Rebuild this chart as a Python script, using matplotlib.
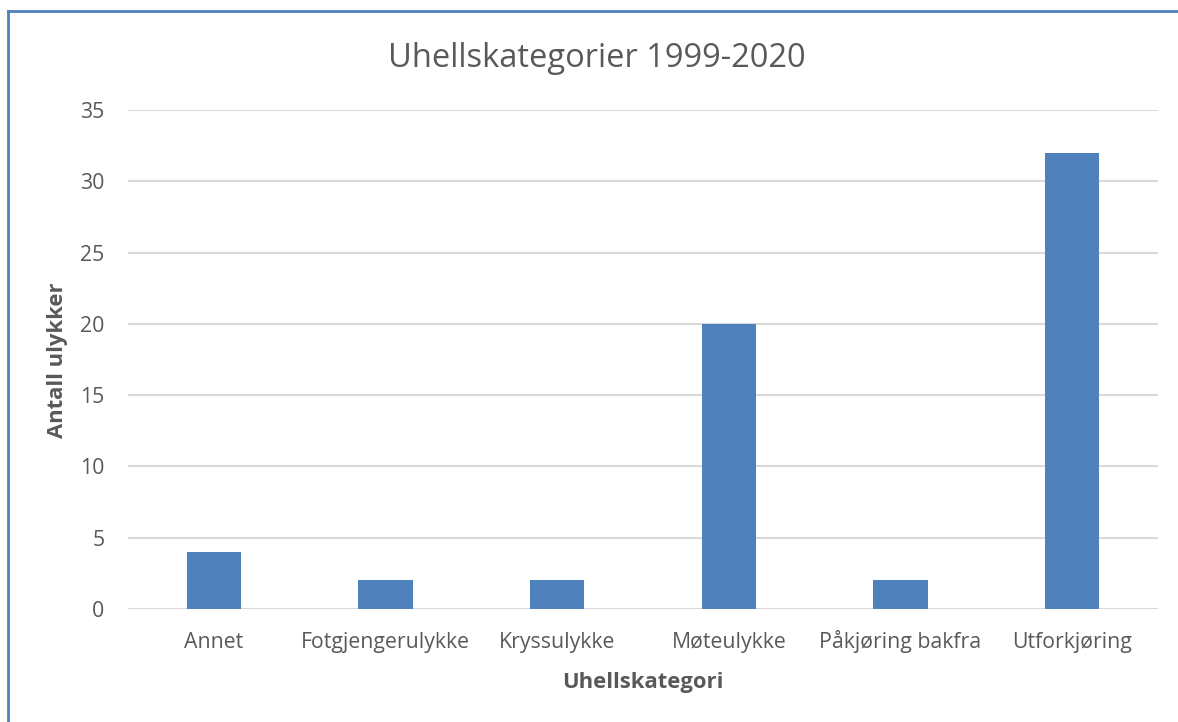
import numpy as np
import matplotlib.pyplot as plt
from matplotlib.lines import Line2D

# Data
categories = ['Annet', 'Fotgjengerulykke', 'Kryssulykke', 'Møteulykke',
              'Påkjøring bakfra', 'Utforkjøring']
counts = [4, 2, 2, 20, 2, 32]
y_ticks = [0, 5, 10, 15, 20, 25, 30, 35]

bar_color = '#4F81BD'
grid_color = '#D9D9D9'
text_color = '#595959'

plt.rcParams['font.family'] = ['Open Sans', 'DejaVu Sans']

W, H = 1178, 722
fig = plt.figure(figsize=(W / 100, H / 100), dpi=100)

# plot area in pixel coordinates
left, right, top, bottom = 128, 1158, 110, 609
ax = fig.add_axes([left / W, 1 - bottom / H, (right - left) / W, (bottom - top) / H])

x = np.arange(len(categories))
ax.bar(x, counts, width=0.315, color=bar_color, zorder=3)

ax.set_xlim(-0.5, len(categories) - 0.5)
ax.set_ylim(0, 35)
ax.set_yticks(y_ticks)
ax.set_xticks(x)
ax.set_xticklabels(categories)

for s in ax.spines.values():
    s.set_visible(False)
ax.yaxis.grid(True, color=grid_color, linewidth=1.5, zorder=0)
ax.set_axisbelow(True)
ax.tick_params(axis='both', length=0, colors=text_color, labelsize=15.3)
ax.tick_params(axis='y', pad=17)
# baseline-aligned category labels so accents don't shift them
ax.tick_params(axis='x', pad=28)
for lbl in ax.get_xticklabels():
    lbl.set_verticalalignment('baseline')

fig.text(643 / W, 1 - 688 / H, 'Uhellskategori', ha='center', va='baseline',
         fontsize=15.8, fontweight='bold', color=text_color)
fig.text(58 / W, 1 - 360 / H, 'Antall ulykker', ha='center', va='center', rotation=90,
         fontsize=15.8, fontweight='bold', color=text_color)

fig.text(597 / W, 1 - 67 / H, 'Uhellskategorier 1999-2020', ha='center', va='baseline',
         fontsize=23.5, color=text_color)

# chart border (left and top edges visible)
fig.add_artist(Line2D([8 / W, 8 / W], [0, 1 - 11 / H], color='#4F81BD', linewidth=2,
                      transform=fig.transFigure))
fig.add_artist(Line2D([8 / W, 1], [1 - 11 / H, 1 - 11 / H], color='#4F81BD', linewidth=2,
                      transform=fig.transFigure))

fig.savefig('out.png', dpi=100)
